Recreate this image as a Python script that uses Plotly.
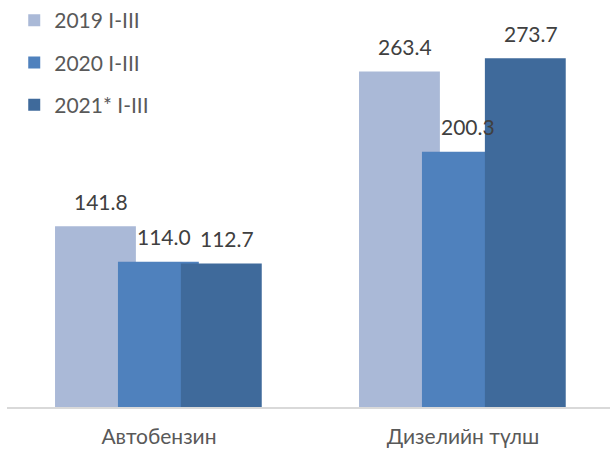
import plotly.graph_objects as go

categories = ["Автобензин", "Дизелийн түлш"]
series_names = ["2019 I-III", "2020 I-III", "2021* I-III"]
values_2019 = [141.8, 263.4]
values_2020 = [114.0, 200.3]
values_2021 = [112.7, 273.7]
colors = ["#AAB9D7", "#4F81BD", "#3F6A9B"]

series_values = [values_2019, values_2020, values_2021]
bar_width = 0.266
offsets = [-0.342, -0.135, 0.072]
xpos = list(range(len(categories)))
FONT = "Lato"
FS = 21

fig = go.Figure()
annotations = []
for i, (name, vals) in enumerate(zip(series_names, series_values)):
    fig.add_trace(go.Bar(
        x=xpos, y=vals, name=name,
        width=bar_width, offset=offsets[i],
        marker=dict(color=colors[i], line=dict(width=0)),
        legendgroup=name,
    ))
    for xp, v in zip(xpos, vals):
        annotations.append(dict(
            x=xp + offsets[i] + bar_width / 2, y=v, xref="x", yref="y",
            text=f"{v:.1f}", showarrow=False, yshift=25, xshift=6,
            font=dict(family=FONT, size=FS, color="#404040"),
        ))

fig.update_layout(
    width=610, height=450,
    barmode="overlay",
    paper_bgcolor="white", plot_bgcolor="white",
    margin=dict(l=7, r=0, t=0, b=43),
    font=dict(family=FONT, size=FS, color="#595959"),
    showlegend=True,
    legend=dict(x=0.012, y=1.0, xanchor="left", yanchor="top",
                traceorder="grouped", tracegroupgap=12,
                font=dict(family=FONT, size=FS, color="#595959"),
                bgcolor="rgba(0,0,0,0)", itemwidth=30),
    annotations=annotations,
    xaxis=dict(range=[-0.5, 1.4836], tickvals=xpos, ticktext=categories,
               showline=True, linecolor="#D9D9D9", linewidth=1.5,
               showgrid=False, zeroline=False, ticks="",
               ticklabelstandoff=10,
               tickfont=dict(family=FONT, size=FS, color="#595959")),
    yaxis=dict(range=[0, 319.5], visible=False, showgrid=False, zeroline=False),
)

fig.write_html("out.html", config={"displayModeBar": False},
               post_script="document.body.style.margin='0';")
